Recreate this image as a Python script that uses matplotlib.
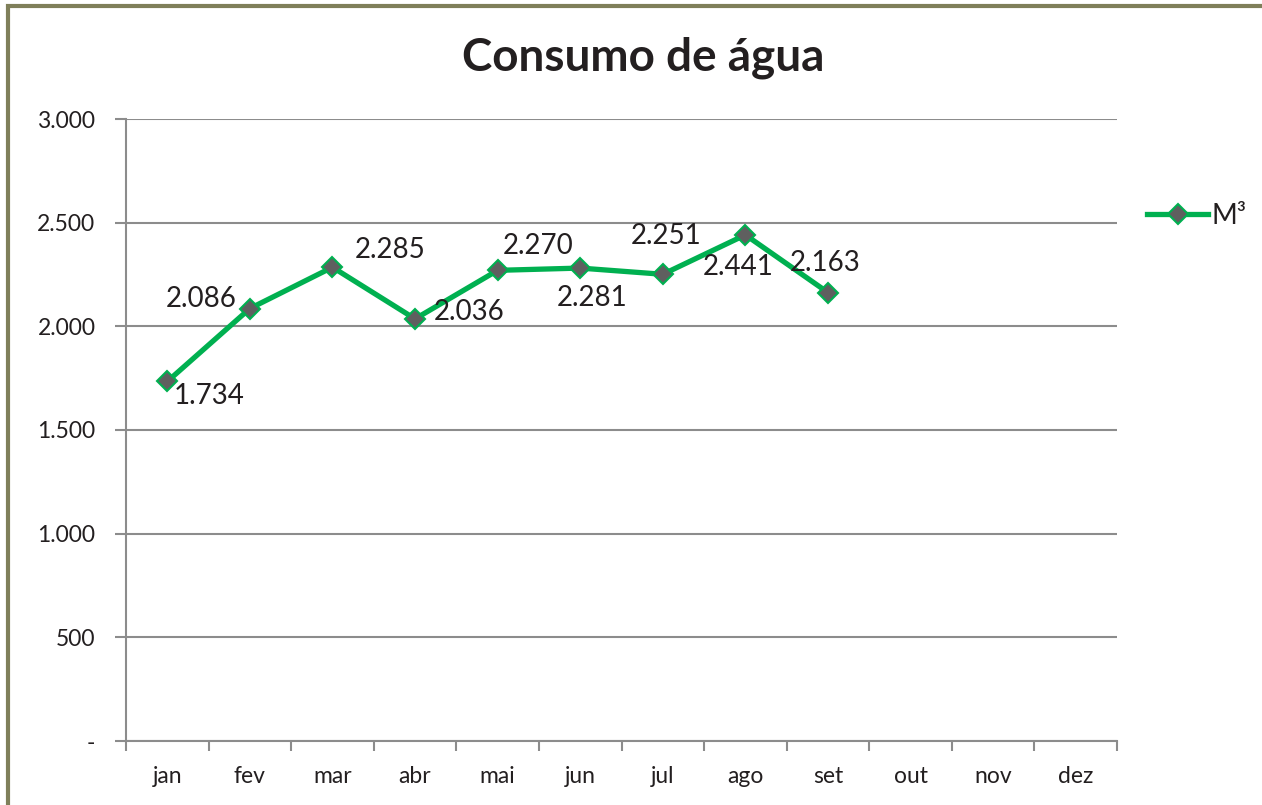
import matplotlib.pyplot as plt
from matplotlib.patches import Rectangle
from matplotlib.ticker import FuncFormatter

# dados de consumo
meses = ['jan', 'fev', 'mar', 'abr', 'mai', 'jun', 'jul', 'ago', 'set', 'out', 'nov', 'dez']
consumo = [1734, 2086, 2285, 2036, 2270, 2281, 2251, 2441, 2163]
# deslocamento dos rótulos (pixels)
offsets = [(42, -15), (-49, 10), (58, 17), (54, 7), (40, 24), (12, -30), (3, 38), (-7, -32), (-3, 30)]

plt.rcParams['font.family'] = ['Lato', 'DejaVu Sans']
texto = '#231f20'
verde = '#00b050'

fig = plt.figure(figsize=(12.62, 8.05), dpi=100)
ax = fig.add_axes([126 / 1262, 1 - 741 / 805, 991 / 1262, 622 / 805])

# borda oliva
fig.patches.append(Rectangle((8 / 1262, -0.1), 1.2, (805 - 6) / 805 + 0.1, transform=fig.transFigure,
                             fill=False, edgecolor='#7f7f5a', linewidth=3))

x = list(range(len(consumo)))
ax.plot(x, consumo, color=verde, linewidth=3.8, marker='D', markersize=10,
        markerfacecolor='#5f5f5f', markeredgecolor=verde, markeredgewidth=1.5, label='M³', zorder=3)

for xi, v, (dx, dy) in zip(x, consumo, offsets):
    ax.annotate('{:,}'.format(v).replace(',', '.'), (xi, v), xytext=(dx * 0.72, dy * 0.72),
                textcoords='offset points', ha='center', va='center', fontsize=20, color=texto)

ax.set_xlim(-0.5, 11.5)
ax.set_ylim(0, 3000)
ax.set_yticks(range(0, 3001, 500))
ax.yaxis.set_major_formatter(FuncFormatter(lambda v, p: '-' if v == 0 else '{:,}'.format(int(v)).replace(',', '.')))
ax.set_xticks([i - 0.5 for i in range(13)])
ax.set_xticklabels([])
ax.set_xticks(range(12), minor=True)
ax.set_xticklabels(meses, minor=True)
ax.tick_params(axis='x', which='major', length=7, color='#8c8c8c', width=1.5, direction='out')
ax.tick_params(axis='x', which='minor', length=0, pad=18, labelsize=16.5, labelcolor=texto)
ax.tick_params(axis='y', length=8, color='#8c8c8c', width=1.5, pad=14, labelsize=16.5, labelcolor=texto)
for lab in ax.get_yticklabels():
    lab.set_horizontalalignment('right')

ax.grid(axis='y', color='#8c8c8c', linewidth=1.5)
ax.set_axisbelow(True)
for s in ['top', 'right']:
    ax.spines[s].set_visible(False)
for s in ['left', 'bottom']:
    ax.spines[s].set_color('#8c8c8c')
    ax.spines[s].set_linewidth(1.5)

fig.text(643 / 1262, 1 - 58 / 805, 'Consumo de água', ha='center', va='center',
         fontsize=33, fontweight='bold', color=texto)

leg = ax.legend(loc='center left', bbox_to_anchor=(1010 / 991, (741 - 216) / 622), frameon=False,
                fontsize=20, handlelength=2.2, handletextpad=0.1, borderaxespad=0)
for t in leg.get_texts():
    t.set_color(texto)

plt.savefig('out.png', dpi=100)
plt.close()
